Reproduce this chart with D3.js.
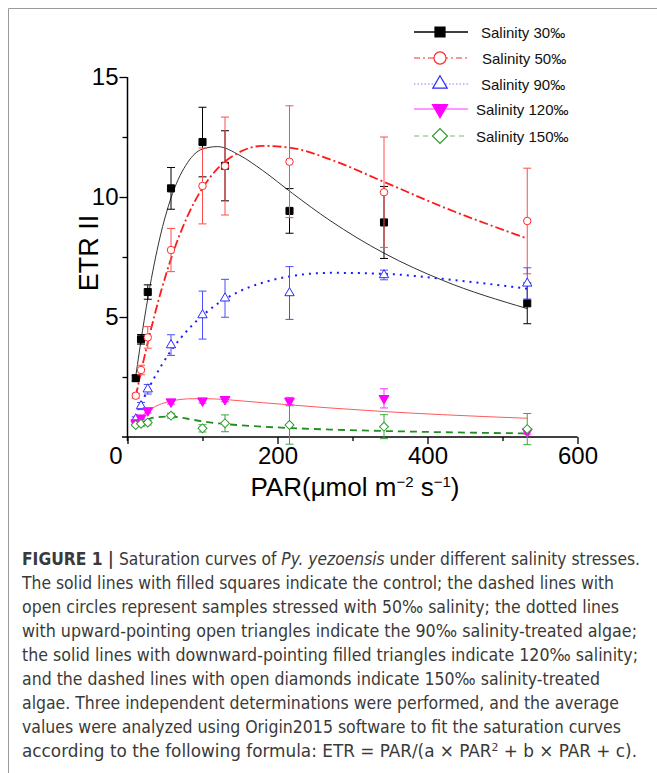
<!DOCTYPE html>
<html>
<head>
<meta charset="utf-8">
<script src="https://cdn.jsdelivr.net/npm/d3@7"></script>
<style>
  body { margin: 0; background: #fff; }
</style>
</head>
<body>
<svg id="fig" width="657" height="773"></svg>
<script>
// measured points (PAR, mean ETR II, error)
const par = [11, 18, 27, 58, 100, 130, 216, 342, 533];

const etr30 = [2.45, 4.07, 6.04, 10.36, 12.29, 11.3, 9.42, 8.94, 5.57];
const err30 = [0.12, 0.2, 0.3, 0.87, 1.45, 1.46, 0.93, 1.5, 0.85];
const etr50 = [1.72, 2.79, 4.15, 7.79, 10.46, 11.29, 11.47, 10.2, 9.0];
const err50 = [0.1, 0.2, 0.45, 0.9, 1.58, 2.04, 2.33, 2.3, 2.2];
const etr90 = [0.74, 1.29, 1.99, 3.83, 5.08, 5.78, 6.0, 6.75, 6.4];
const err90 = [0.1, 0.15, 0.2, 0.43, 1.0, 0.79, 1.1, 0.2, 0.65];
const etr120 = [0.6, 0.8, 1.1, 1.47, 1.51, 1.57, 1.5, 1.61, 0.22];
const err120 = [0.05, 0.05, 0.1, 0.1, 0.1, 0.1, 0.15, 0.4, 0.1];
const etr150 = [0.5, 0.55, 0.6, 0.89, 0.36, 0.57, 0.5, 0.43, 0.33];
const err150 = [0.05, 0.1, 0.1, 0.1, 0.15, 0.35, 0.8, 0.5, 0.65];

// fitted curves
const fitPar = [11, 20, 30, 45, 60, 80, 100, 120, 150, 180, 220, 270, 342, 420, 533];
const fit30 = [2.53, 4.43, 6.29, 8.54, 10.14, 11.43, 12.0, 12.1, 11.73, 11.11, 10.15, 9.02, 7.66, 6.53, 5.35];
const fit50 = [1.69, 2.99, 4.32, 6.1, 7.61, 9.2, 10.37, 11.18, 11.88, 12.13, 12.04, 11.57, 10.63, 9.59, 8.27];
const fit90 = [0.87, 1.5, 2.14, 2.97, 3.68, 4.45, 5.06, 5.55, 6.08, 6.43, 6.71, 6.84, 6.8, 6.59, 6.18];
const fit120 = [0.56, 0.88, 1.14, 1.38, 1.51, 1.59, 1.6, 1.58, 1.51, 1.43, 1.33, 1.21, 1.06, 0.93, 0.78];
const fit150 = [0.55, 0.68, 0.77, 0.84, 0.85, 0.76, 0.65, 0.57, 0.49, 0.43, 0.37, 0.31, 0.25, 0.2, 0.15];

const seriesNames = ["Salinity 30‰", "Salinity 50‰", "Salinity 90‰", "Salinity 120‰", "Salinity 150‰"];

const xTicks = [0, 200, 400, 600];
const xMinor = [100, 300, 500];
const yTicks = [5, 10, 15];
const yMinor = [2.5, 7.5, 12.5];

const caption = [
  [["FIGURE 1 | ", "b"], ["Saturation curves of ", ""], ["Py. yezoensis", "i"], [" under different salinity stresses.", ""]],
  [["The solid lines with filled squares indicate the control; the dashed lines with", ""]],
  [["open circles represent samples stressed with 50‰ salinity; the dotted lines", ""]],
  [["with upward-pointing open triangles indicate the 90‰ salinity-treated algae;", ""]],
  [["the solid lines with downward-pointing filled triangles indicate 120‰ salinity;", ""]],
  [["and the dashed lines with open diamonds indicate 150‰ salinity-treated", ""]],
  [["algae. Three independent determinations were performed, and the average", ""]],
  [["values were analyzed using Origin2015 software to fit the saturation curves", ""]],
  [["according to the following formula: ETR = PAR/(a × PAR", ""], ["2", "sup"], [" + b × PAR + c).", ""]]
];

const styles = [
  {mean: etr30, err: err30, fit: fit30, sym: d3.symbolSquare, size: 50, rot: 0, fill: "#000", stroke: "#000",
   errColor: "#000", curve: "#333", cw: 1, dash: null, leg: "#000", legDash: null, legSize: 100},
  {mean: etr50, err: err50, fit: fit50, sym: d3.symbolCircle, size: 44, rot: 0, fill: "#fff", stroke: "#ff2a2a",
   errColor: "#ff4d4d", curve: "#ff1a1a", cw: 1.8, dash: "9,3,2,3", leg: "#ff2a2a", legDash: "6,3,2,3", legSize: 115},
  {mean: etr90, err: err90, fit: fit90, sym: d3.symbolTriangle, size: 38, rot: 0, fill: "#fff", stroke: "#2a2aff",
   errColor: "#4d4dff", curve: "#1a1aff", cw: 2, dash: "2,5", leg: "#8080ff", legDash: "1.5,2", legSize: 90},
  {mean: etr120, err: err120, fit: fit120, sym: d3.symbolTriangle, size: 42, rot: 180, fill: "#ff00ff", stroke: "#ff00ff",
   errColor: "#ff33ff", curve: "#ff5a5a", cw: 1, dash: null, leg: "#ff33ff", legDash: null, legSize: 100},
  {mean: etr150, err: err150, fit: fit150, sym: d3.symbolSquare, size: 40, rot: 45, fill: "#fff", stroke: "#2f9a2f",
   errColor: "#3aa83a", curve: "#1f8f1f", cw: 1.8, dash: "7,5", leg: "#6fbf6f", legDash: "5,4", legSize: 100}
];

const svg = d3.select("#fig");
const font = "'Liberation Sans', Arial, Helvetica, sans-serif";

// frame
svg.append("path")
  .attr("d", "M8.5,773V8.5H657")
  .attr("fill", "none")
  .attr("stroke", "#9a9a9a")
  .attr("stroke-width", 1);

const x = d3.scaleLinear().domain([0, 600]).range([127.5, 577.5]);
const y = d3.scaleLinear().domain([0, 15]).range([437, 77]);

// axes (d3.axis sets its own font on the group, so restyle after the call)
const gx = svg.append("g")
  .attr("transform", `translate(0,${y(0)})`)
  .call(d3.axisBottom(x).tickValues(xTicks).tickSize(7).tickSizeOuter(0).tickPadding(3).tickFormat(d3.format("d")))
  .attr("font-family", font)
  .attr("font-size", 24);
gx.select(".domain").remove();
gx.selectAll(".tick text").attr("fill", "#000");
gx.selectAll(".tick line").attr("stroke", "#000").attr("stroke-width", 1.3);
gx.selectAll(".tick text").filter(d => d === 0).attr("dx", -12);
svg.append("g")
  .attr("transform", `translate(0,${y(0)})`)
  .call(d3.axisBottom(x).tickValues(xMinor).tickSize(4).tickSizeOuter(0).tickFormat(""))
  .call(g => g.select(".domain").remove())
  .selectAll("line").attr("stroke", "#000").attr("stroke-width", 1.3);
svg.append("line")
  .attr("x1", 122).attr("x2", x(600))
  .attr("y1", y(0)).attr("y2", y(0))
  .attr("stroke", "#000").attr("stroke-width", 1.5);

const gy = svg.append("g")
  .attr("transform", `translate(${x(0)},0)`)
  .call(d3.axisLeft(y).tickValues(yTicks).tickSize(8).tickSizeOuter(0).tickPadding(1))
  .attr("font-family", font)
  .attr("font-size", 24);
gy.select(".domain").remove();
gy.selectAll(".tick text").attr("fill", "#000");
gy.selectAll(".tick line").attr("stroke", "#000").attr("stroke-width", 1.3);
svg.append("g")
  .attr("transform", `translate(${x(0)},0)`)
  .call(d3.axisLeft(y).tickValues(yMinor).tickSize(5).tickSizeOuter(0).tickFormat(""))
  .call(g => g.select(".domain").remove())
  .selectAll("line").attr("stroke", "#000").attr("stroke-width", 1.3);
svg.append("line")
  .attr("x1", x(0)).attr("x2", x(0))
  .attr("y1", y(15)).attr("y2", y(0) + 4)
  .attr("stroke", "#000").attr("stroke-width", 1.5);

// axis titles
svg.append("text")
  .attr("transform", `translate(98,253) rotate(-90)`)
  .attr("text-anchor", "middle")
  .attr("font-family", font)
  .attr("font-size", 27)
  .text("ETR II");

const xt = svg.append("text")
  .attr("x", 355).attr("y", 496)
  .attr("text-anchor", "middle")
  .attr("font-family", font)
  .attr("font-size", 26);
xt.append("tspan").text("PAR(μmol m");
xt.append("tspan").attr("dy", -9).attr("font-size", 15).text("−2");
xt.append("tspan").attr("dy", 9).text(" s");
xt.append("tspan").attr("dy", -9).attr("font-size", 15).text("−1");
xt.append("tspan").attr("dy", 9).text(")");

// fitted curves
const line = d3.line()
  .curve(d3.curveMonotoneX)
  .x(d => x(d[0]))
  .y(d => y(d[1]));

styles.forEach(s => {
  svg.append("path")
    .datum(fitPar.map((p, i) => [p, s.fit[i]]))
    .attr("fill", "none")
    .attr("stroke", s.curve)
    .attr("stroke-width", s.cw)
    .attr("stroke-dasharray", s.dash)
    .attr("d", line);
});

// error bars and symbols
styles.forEach(s => {
  const pts = par.map((p, i) => ({p, v: s.mean[i], e: s.err[i]}));
  const g = svg.append("g");
  g.selectAll("path.eb").data(pts).join("path")
    .attr("class", "eb")
    .attr("stroke", s.errColor).attr("stroke-width", 1).attr("fill", "none")
    .attr("d", d => {
      const cx = x(d.p), t = y(d.v + d.e), b = y(d.v - d.e);
      return `M${cx},${t}V${b}M${cx - 4},${t}H${cx + 4}M${cx - 4},${b}H${cx + 4}`;
    });
  g.selectAll("path.sym").data(pts).join("path")
    .attr("class", "sym")
    .attr("transform", d => `translate(${x(d.p)},${y(d.v)}) rotate(${s.rot})`)
    .attr("d", d3.symbol().type(s.sym).size(s.size))
    .attr("fill", s.fill)
    .attr("stroke", s.stroke)
    .attr("stroke-width", 1);
});

// legend
const legY = [32, 58, 84, 109, 136];
const legTx = [481, 482, 481, 476, 476];
styles.forEach((s, i) => {
  const g = svg.append("g").attr("transform", `translate(0,${legY[i]})`);
  g.append("line")
    .attr("x1", 414).attr("x2", 468)
    .attr("stroke", s.leg)
    .attr("stroke-width", i === 0 ? 1.3 : 1.2)
    .attr("stroke-dasharray", s.legDash);
  g.append("path")
    .attr("transform", `translate(440,0) rotate(${s.rot})`)
    .attr("d", d3.symbol().type(s.sym).size(s.rot === 45 ? 110 : s.legSize))
    .attr("fill", s.fill)
    .attr("stroke", s.stroke)
    .attr("stroke-width", 1.2);
  g.append("text")
    .attr("x", legTx[i]).attr("y", 5.5)
    .attr("font-family", font)
    .attr("font-size", 15)
    .attr("fill", "#111")
    .text(seriesNames[i]);
});

// caption
const capWidths = [618, 592, 597, 615, 616, 578, 597, 599, 615];
caption.forEach((parts, i) => {
  const t = svg.append("text")
    .attr("x", 22).attr("y", 565 + i * 24)
    .attr("font-family", "'Liberation Sans Narrow', 'DejaVu Sans Condensed', 'Roboto', sans-serif")
    .attr("font-size", 17)
    .attr("fill", "#3a3a3a")
    .attr("textLength", capWidths[i])
    .attr("lengthAdjust", "spacingAndGlyphs");
  let shifted = false;
  parts.forEach(([txt, st]) => {
    const ts = t.append("tspan").text(txt);
    if (st === "b") ts.attr("font-weight", "bold");
    if (st === "i") ts.attr("font-style", "italic");
    if (st === "sup") { ts.attr("font-size", 11).attr("dy", -6); shifted = true; }
    else if (shifted) { ts.attr("dy", 6); shifted = false; }
  });
});
</script>
</body>
</html>
